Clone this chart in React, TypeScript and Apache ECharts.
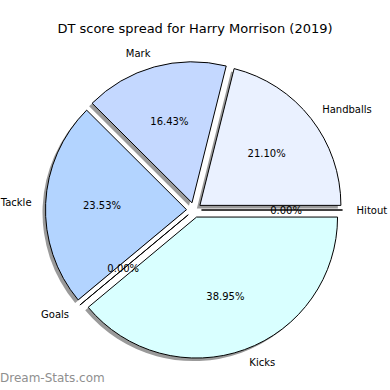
import React, { useEffect, useRef } from "react";
import * as echarts from "echarts";

const TITLE = "DT score spread for Harry Morrison (2019)";
const categories = ["Handballs", "Mark", "Tackle", "Goals", "Kicks", "Hitout"];
const values = [21.1, 16.43, 23.53, 0, 38.95, 0];
const colors = ["#eaf1ff", "#c4d8ff", "#b3d4ff", "#c8e0ff", "#d9ffff", "#e0f0ff"];
const WATERMARK = "Dream-Stats.com";

const FONT = "DejaVu Sans";
const CX = 194;
const CY = 210;
const R = 141;
const OFFSET = 7.5;

export default function App() {
  const ref = useRef<HTMLDivElement>(null);
  useEffect(() => {
    if (!ref.current) return;
    const chart = echarts.init(ref.current, undefined, { renderer: "svg" });
    const total = values.reduce((a, b) => a + b, 0);
    const common = {
      type: "pie",
      center: [CX, CY],
      startAngle: 0,
      clockwise: false,
      selectedMode: "multiple",
      selectedOffset: OFFSET,
      avoidLabelOverlap: false,
      silent: true,
    };
    const shadowData = categories.map((c, i) => ({
      name: c,
      value: values[i],
      selected: true,
      itemStyle: { color: "#9a9a9a", borderWidth: 0 },
    }));
    const mainData = categories.map((c, i) => ({
      name: c,
      value: values[i],
      selected: true,
      itemStyle: { color: colors[i], borderColor: "#000", borderWidth: 1 },
    }));
    const pctData = categories.map((c, i) => ({
      name: c,
      value: values[i],
      selected: true,
      itemStyle: { color: "rgba(0,0,0,0)", borderWidth: 0 },
    }));
    chart.setOption({
      animation: false,
      title: {
        text: TITLE,
        left: "center",
        top: 17,
        textStyle: { fontFamily: FONT, fontSize: 13, fontWeight: "normal", color: "#000" },
      },
      graphic: [
        {
          type: "text",
          left: 0,
          top: 372,
          style: { text: WATERMARK, fontFamily: FONT, fontSize: 12, fontWeight: "normal", fill: "#8f8f8f" },
        },
      ],
      series: [
        {
          ...common,
          center: [CX - 3, CY + 3],
          radius: R,
          data: shadowData,
          label: { show: false },
          labelLine: { show: false },
          select: { itemStyle: { color: "#9a9a9a", borderWidth: 0 } },
        },
        {
          ...common,
          radius: R,
          data: mainData,
          label: {
            show: true,
            position: "outside",
            fontFamily: FONT,
            fontSize: 10,
            color: "#000",
            distanceToLabelLine: 0,
            formatter: "{b}",
          },
          labelLine: { show: false, length: R * 0.1, length2: 0 },
          select: { itemStyle: { borderColor: "#000", borderWidth: 1 }, label: { color: "#000" } },
        },
        {
          ...common,
          radius: [R * 0.2 - 6, R],
          data: pctData,
          label: {
            show: true,
            position: "inside",
            fontFamily: FONT,
            fontSize: 10,
            color: "#000",
            formatter: (p: any) => ((p.value / total) * 100).toFixed(2) + "%",
          },
          labelLine: { show: false },
          select: { itemStyle: { color: "rgba(0,0,0,0)", borderWidth: 0 }, label: { color: "#000" } },
        },
      ],
    });
    return () => chart.dispose();
  }, []);
  return (
    <div
      ref={ref}
      style={{ position: "fixed", left: 0, top: 0, width: 390, height: 390, background: "#fff" }}
    />
  );
}
